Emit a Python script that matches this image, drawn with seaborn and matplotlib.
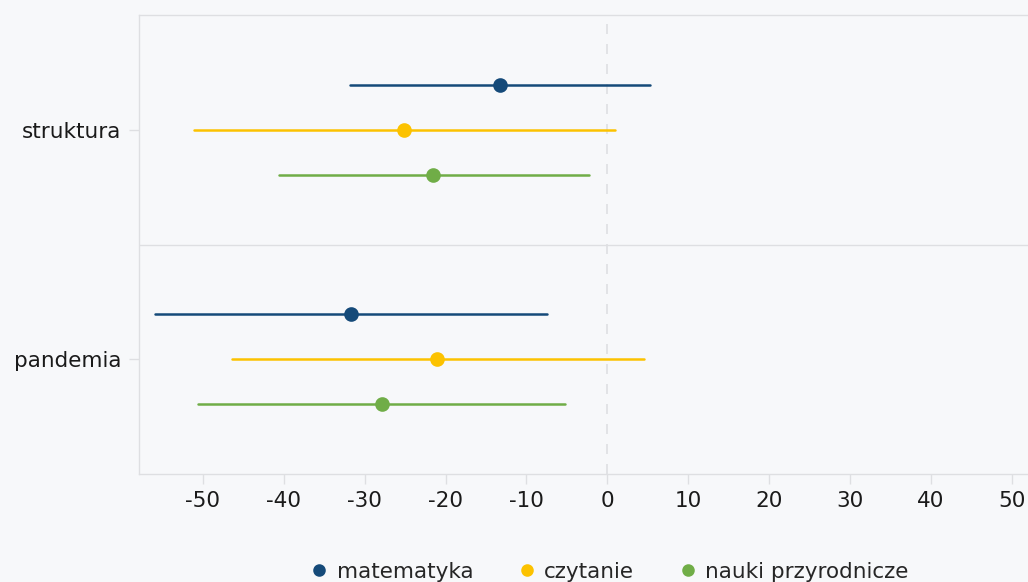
import matplotlib
matplotlib.use("Agg")
import matplotlib.pyplot as plt
import pandas as pd
import seaborn as sns

categories = ["struktura", "pandemia"]
subjects = ["matematyka", "czytanie", "nauki przyrodnicze"]
colors = ["#154a79", "#fcc200", "#70ad47"]

# point estimate and interval per category, in subject order
estimate = {"struktura": [-13.3, -25.1, -21.5], "pandemia": [-31.7, -21.0, -27.9]}
lower = {"struktura": [-31.8, -51.1, -40.6], "pandemia": [-55.9, -46.4, -50.6]}
upper = {"struktura": [5.3, 0.9, -2.3], "pandemia": [-7.5, 4.5, -5.2]}
x_ticks = [-50, -40, -30, -20, -10, 0, 10, 20, 30, 40, 50]

rows = []
for cat in categories:
    for i, subj in enumerate(subjects):
        for v in (lower[cat][i], estimate[cat][i], upper[cat][i]):
            rows.append({"kategoria": cat, "przedmiot": subj, "wartosc": v})
df = pd.DataFrame(rows)

bg = "#f7f8fa"
grid = "#dedfe2"
sns.set_style("white")
plt.rcParams["font.family"] = ["DejaVu Sans"]

fig = plt.figure(figsize=(10.28, 5.82), dpi=100, facecolor=bg)
ax = fig.add_axes([139 / 1028, 1 - 474 / 582, 889 / 1028, (474 - 15) / 582])
ax.set_facecolor(bg)

ax.axvline(0, color=grid, lw=1.2, ls=(0, (6, 6)), zorder=0)
ax.axhline(0.5, color=grid, lw=1, zorder=0)

sns.pointplot(data=df, x="wartosc", y="kategoria", hue="przedmiot",
              order=categories, hue_order=subjects, palette=colors,
              estimator="median", errorbar=("pi", 100), dodge=0.39,
              linestyle="none", markersize=8.5, err_kws={"linewidth": 1.8},
              ax=ax)

ax.set_xlim(-57.9, 52)
ax.set_ylim(1.5, -0.5)
ax.set_xticks(x_ticks)
ax.set_xticklabels([str(t) for t in x_ticks])
ax.set_xlabel("")
ax.set_ylabel("")
for s in ax.spines.values():
    s.set_color(grid)
    s.set_linewidth(1)
ax.spines["right"].set_visible(False)
ax.tick_params(axis="both", bottom=True, left=True, length=7.5, width=1,
               color=grid, labelsize=15.5, labelcolor="#1a1a1a")
ax.tick_params(axis="x", pad=5)
ax.tick_params(axis="y", pad=5)

handles, labels = ax.get_legend_handles_labels()
for h in handles:
    h.set_markersize(7)
ax.legend(handles, labels, loc="center", bbox_to_anchor=(0.592, 1 - 572 / 582),
          bbox_transform=fig.transFigure, ncol=3, frameon=False, fontsize=15.5,
          handletextpad=0.3, columnspacing=2.0, handlelength=1.0)

fig.savefig("out.png", dpi=100, facecolor=bg)
